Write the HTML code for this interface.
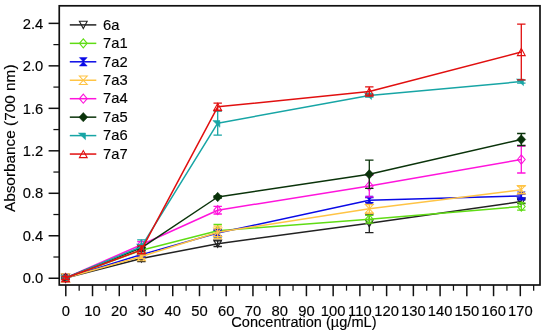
<!DOCTYPE html>
<html><head><meta charset="utf-8"><title>Chart</title>
<style>
html,body{margin:0;padding:0;background:#fff;}
body{width:550px;height:333px;overflow:hidden;font-family:"Liberation Sans",sans-serif;}
svg{display:block;position:absolute;left:0;top:0;will-change:transform;}
text{font-family:"Liberation Sans",sans-serif;font-size:15.2px;fill:#000;stroke:#000;stroke-width:0.15px;}
</style></head><body>
<svg width="550" height="333" viewBox="0 0 550 333">

<rect x="59.25" y="5.8" width="480.75" height="279.2" fill="none" stroke="#111" stroke-width="1.7"/>
<g stroke="#111" stroke-width="1.5" fill="none">
<path d="M48.6 278.25H59.25"/>
<path d="M53.4 257.01H59.25" stroke-width="1.25"/>
<path d="M48.6 235.77H59.25"/>
<path d="M53.4 214.53H59.25" stroke-width="1.25"/>
<path d="M48.6 193.29H59.25"/>
<path d="M53.4 172.05H59.25" stroke-width="1.25"/>
<path d="M48.6 150.81H59.25"/>
<path d="M53.4 129.57H59.25" stroke-width="1.25"/>
<path d="M48.6 108.33H59.25"/>
<path d="M53.4 87.09H59.25" stroke-width="1.25"/>
<path d="M48.6 65.85H59.25"/>
<path d="M53.4 44.61H59.25" stroke-width="1.25"/>
<path d="M48.6 23.37H59.25"/>
<path d="M65.80 285.0V296.2"/>
<path d="M79.17 285.0V290.7" stroke-width="1.25"/>
<path d="M92.53 285.0V296.2"/>
<path d="M105.90 285.0V290.7" stroke-width="1.25"/>
<path d="M119.27 285.0V296.2"/>
<path d="M132.64 285.0V290.7" stroke-width="1.25"/>
<path d="M146.00 285.0V296.2"/>
<path d="M159.37 285.0V290.7" stroke-width="1.25"/>
<path d="M172.74 285.0V296.2"/>
<path d="M186.11 285.0V290.7" stroke-width="1.25"/>
<path d="M199.48 285.0V296.2"/>
<path d="M212.84 285.0V290.7" stroke-width="1.25"/>
<path d="M226.21 285.0V296.2"/>
<path d="M239.58 285.0V290.7" stroke-width="1.25"/>
<path d="M252.94 285.0V296.2"/>
<path d="M266.31 285.0V290.7" stroke-width="1.25"/>
<path d="M279.68 285.0V296.2"/>
<path d="M293.05 285.0V290.7" stroke-width="1.25"/>
<path d="M306.42 285.0V296.2"/>
<path d="M319.78 285.0V290.7" stroke-width="1.25"/>
<path d="M333.15 285.0V296.2"/>
<path d="M346.52 285.0V290.7" stroke-width="1.25"/>
<path d="M359.89 285.0V296.2"/>
<path d="M373.25 285.0V290.7" stroke-width="1.25"/>
<path d="M386.62 285.0V296.2"/>
<path d="M399.99 285.0V290.7" stroke-width="1.25"/>
<path d="M413.36 285.0V296.2"/>
<path d="M426.72 285.0V290.7" stroke-width="1.25"/>
<path d="M440.09 285.0V296.2"/>
<path d="M453.46 285.0V290.7" stroke-width="1.25"/>
<path d="M466.83 285.0V296.2"/>
<path d="M480.19 285.0V290.7" stroke-width="1.25"/>
<path d="M493.56 285.0V296.2"/>
<path d="M506.93 285.0V290.7" stroke-width="1.25"/>
<path d="M520.30 285.0V296.2"/>
<path d="M533.66 285.0V290.7" stroke-width="1.25"/>
</g>
<g>
<text transform="translate(43.2 283.45) scale(0.972 1)" text-anchor="end">0.0</text>
<text transform="translate(43.2 240.97) scale(0.972 1)" text-anchor="end">0.4</text>
<text transform="translate(43.2 198.49) scale(0.972 1)" text-anchor="end">0.8</text>
<text transform="translate(43.2 156.01) scale(0.972 1)" text-anchor="end">1.2</text>
<text transform="translate(43.2 113.53) scale(0.972 1)" text-anchor="end">1.6</text>
<text transform="translate(43.2 71.05) scale(0.972 1)" text-anchor="end">2.0</text>
<text transform="translate(43.2 28.57) scale(0.972 1)" text-anchor="end">2.4</text>
<text transform="translate(65.80 315.7) scale(0.972 1)" text-anchor="middle">0</text>
<text transform="translate(92.53 315.7) scale(0.972 1)" text-anchor="middle">10</text>
<text transform="translate(119.27 315.7) scale(0.972 1)" text-anchor="middle">20</text>
<text transform="translate(146.00 315.7) scale(0.972 1)" text-anchor="middle">30</text>
<text transform="translate(172.74 315.7) scale(0.972 1)" text-anchor="middle">40</text>
<text transform="translate(199.48 315.7) scale(0.972 1)" text-anchor="middle">50</text>
<text transform="translate(226.21 315.7) scale(0.972 1)" text-anchor="middle">60</text>
<text transform="translate(252.94 315.7) scale(0.972 1)" text-anchor="middle">70</text>
<text transform="translate(279.68 315.7) scale(0.972 1)" text-anchor="middle">80</text>
<text transform="translate(306.42 315.7) scale(0.972 1)" text-anchor="middle">90</text>
<text transform="translate(333.15 315.7) scale(0.972 1)" text-anchor="middle">100</text>
<text transform="translate(359.89 315.7) scale(0.972 1)" text-anchor="middle">110</text>
<text transform="translate(386.62 315.7) scale(0.972 1)" text-anchor="middle">120</text>
<text transform="translate(413.36 315.7) scale(0.972 1)" text-anchor="middle">130</text>
<text transform="translate(440.09 315.7) scale(0.972 1)" text-anchor="middle">140</text>
<text transform="translate(466.83 315.7) scale(0.972 1)" text-anchor="middle">150</text>
<text transform="translate(493.56 315.7) scale(0.972 1)" text-anchor="middle">160</text>
<text transform="translate(520.30 315.7) scale(0.972 1)" text-anchor="middle">170</text>
<text x="303.9" y="327.3" text-anchor="middle" textLength="145.2" lengthAdjust="spacingAndGlyphs">Concentration (µg/mL)</text>
<text transform="translate(14.9 138.3) rotate(-90)" text-anchor="middle" textLength="147.6" lengthAdjust="spacingAndGlyphs" style="font-size:14.4px">Absorbance (700 nm)</text>
</g>
<g stroke="#222222" fill="none" stroke-width="1.5">
<polyline points="65.60,278.00 141.40,258.40 217.70,243.70 369.30,223.30 521.30,201.60" stroke-linejoin="round"/>
<path d="M65.60 277.00V279.00M61.40 277.00H69.80M61.40 279.00H69.80" stroke-width="1.3"/>
<path d="M141.40 255.10V261.70M137.20 255.10H145.60M137.20 261.70H145.60" stroke-width="1.3"/>
<path d="M217.70 240.90V246.50M213.50 240.90H221.90M213.50 246.50H221.90" stroke-width="1.3"/>
<path d="M369.30 214.00V232.60M365.10 214.00H373.50M365.10 232.60H373.50" stroke-width="1.3"/>
<path d="M521.30 199.60V203.60M517.10 199.60H525.50M517.10 203.60H525.50" stroke-width="1.3"/>
</g>
<path d="M61.70 274.40H69.50L65.60 281.60Z" fill="none" stroke="#222222" stroke-width="1.1"/>
<path d="M137.50 254.80H145.30L141.40 262.00Z" fill="none" stroke="#222222" stroke-width="1.1"/>
<path d="M213.80 240.10H221.60L217.70 247.30Z" fill="none" stroke="#222222" stroke-width="1.1"/>
<path d="M365.40 219.70H373.20L369.30 226.90Z" fill="none" stroke="#222222" stroke-width="1.1"/>
<path d="M517.40 198.00H525.20L521.30 205.20Z" fill="none" stroke="#222222" stroke-width="1.1"/>
<g stroke="#5fdc14" fill="none" stroke-width="1.5">
<polyline points="65.60,278.00 141.40,250.20 217.70,230.70 369.30,219.30 521.30,206.50" stroke-linejoin="round"/>
<path d="M65.60 277.00V279.00M61.40 277.00H69.80M61.40 279.00H69.80" stroke-width="1.3"/>
<path d="M141.40 247.20V253.20M137.20 247.20H145.60M137.20 253.20H145.60" stroke-width="1.3"/>
<path d="M217.70 224.50V236.90M213.50 224.50H221.90M213.50 236.90H221.90" stroke-width="1.3"/>
<path d="M369.30 215.40V223.20M365.10 215.40H373.50M365.10 223.20H373.50" stroke-width="1.3"/>
<path d="M521.30 202.90V210.10M517.10 202.90H525.50M517.10 210.10H525.50" stroke-width="1.3"/>
</g>
<path d="M61.75 278.00L65.60 273.45L69.45 278.00L65.60 282.55Z" fill="none" stroke="#5fdc14" stroke-width="1.1"/>
<path d="M137.55 250.20L141.40 245.65L145.25 250.20L141.40 254.75Z" fill="none" stroke="#5fdc14" stroke-width="1.1"/>
<path d="M213.85 230.70L217.70 226.15L221.55 230.70L217.70 235.25Z" fill="none" stroke="#5fdc14" stroke-width="1.1"/>
<path d="M365.45 219.30L369.30 214.75L373.15 219.30L369.30 223.85Z" fill="none" stroke="#5fdc14" stroke-width="1.1"/>
<path d="M517.45 206.50L521.30 201.95L525.15 206.50L521.30 211.05Z" fill="none" stroke="#5fdc14" stroke-width="1.1"/>
<g stroke="#0a0ae6" fill="none" stroke-width="1.5">
<polyline points="65.60,278.00 141.40,254.60 217.70,233.00 369.30,200.20 521.30,196.00" stroke-linejoin="round"/>
<path d="M65.60 277.00V279.00M61.40 277.00H69.80M61.40 279.00H69.80" stroke-width="1.3"/>
<path d="M141.40 252.60V256.60M137.20 252.60H145.60M137.20 256.60H145.60" stroke-width="1.3"/>
<path d="M217.70 230.00V236.00M213.50 230.00H221.90M213.50 236.00H221.90" stroke-width="1.3"/>
<path d="M369.30 197.70V202.70M365.10 197.70H373.50M365.10 202.70H373.50" stroke-width="1.3"/>
<path d="M521.30 194.00V198.00M517.10 194.00H525.50M517.10 198.00H525.50" stroke-width="1.3"/>
</g>
<path d="M61.70 273.80H69.50L61.70 282.20H69.50Z" fill="#0a0ae6" stroke="#0a0ae6" stroke-width="0.5"/>
<path d="M137.50 250.40H145.30L137.50 258.80H145.30Z" fill="#0a0ae6" stroke="#0a0ae6" stroke-width="0.5"/>
<path d="M213.80 228.80H221.60L213.80 237.20H221.60Z" fill="#0a0ae6" stroke="#0a0ae6" stroke-width="0.5"/>
<path d="M365.40 196.00H373.20L365.40 204.40H373.20Z" fill="#0a0ae6" stroke="#0a0ae6" stroke-width="0.5"/>
<path d="M517.40 191.80H525.20L517.40 200.20H525.20Z" fill="#0a0ae6" stroke="#0a0ae6" stroke-width="0.5"/>
<g stroke="#ffc445" fill="none" stroke-width="1.5">
<polyline points="65.60,278.00 141.40,256.50 217.70,232.30 369.30,208.80 521.30,189.80" stroke-linejoin="round"/>
<path d="M65.60 277.00V279.00M61.40 277.00H69.80M61.40 279.00H69.80" stroke-width="1.3"/>
<path d="M141.40 254.50V258.50M137.20 254.50H145.60M137.20 258.50H145.60" stroke-width="1.3"/>
<path d="M217.70 226.10V238.50M213.50 226.10H221.90M213.50 238.50H221.90" stroke-width="1.3"/>
<path d="M369.30 204.30V213.30M365.10 204.30H373.50M365.10 213.30H373.50" stroke-width="1.3"/>
<path d="M521.30 186.20V193.40M517.10 186.20H525.50M517.10 193.40H525.50" stroke-width="1.3"/>
</g>
<path d="M61.70 273.80H69.50L61.70 282.20H69.50Z" fill="none" stroke="#ffc445" stroke-width="1.1"/>
<path d="M137.50 252.30H145.30L137.50 260.70H145.30Z" fill="none" stroke="#ffc445" stroke-width="1.1"/>
<path d="M213.80 228.10H221.60L213.80 236.50H221.60Z" fill="none" stroke="#ffc445" stroke-width="1.1"/>
<path d="M365.40 204.60H373.20L365.40 213.00H373.20Z" fill="none" stroke="#ffc445" stroke-width="1.1"/>
<path d="M517.40 185.60H525.20L517.40 194.00H525.20Z" fill="none" stroke="#ffc445" stroke-width="1.1"/>
<g stroke="#ff14dc" fill="none" stroke-width="1.5">
<polyline points="65.60,278.00 141.40,244.70 217.70,210.20 369.30,186.00 521.30,159.50" stroke-linejoin="round"/>
<path d="M65.60 277.00V279.00M61.40 277.00H69.80M61.40 279.00H69.80" stroke-width="1.3"/>
<path d="M141.40 241.70V247.70M137.20 241.70H145.60M137.20 247.70H145.60" stroke-width="1.3"/>
<path d="M217.70 206.40V214.00M213.50 206.40H221.90M213.50 214.00H221.90" stroke-width="1.3"/>
<path d="M369.30 175.20V196.80M365.10 175.20H373.50M365.10 196.80H373.50" stroke-width="1.3"/>
<path d="M521.30 146.00V173.00M517.10 146.00H525.50M517.10 173.00H525.50" stroke-width="1.3"/>
</g>
<path d="M61.75 278.00L65.60 273.45L69.45 278.00L65.60 282.55Z" fill="none" stroke="#ff14dc" stroke-width="1.1"/>
<path d="M137.55 244.70L141.40 240.15L145.25 244.70L141.40 249.25Z" fill="none" stroke="#ff14dc" stroke-width="1.1"/>
<path d="M213.85 210.20L217.70 205.65L221.55 210.20L217.70 214.75Z" fill="none" stroke="#ff14dc" stroke-width="1.1"/>
<path d="M365.45 186.00L369.30 181.45L373.15 186.00L369.30 190.55Z" fill="none" stroke="#ff14dc" stroke-width="1.1"/>
<path d="M517.45 159.50L521.30 154.95L525.15 159.50L521.30 164.05Z" fill="none" stroke="#ff14dc" stroke-width="1.1"/>
<g stroke="#0a330a" fill="none" stroke-width="1.5">
<polyline points="65.60,278.00 141.40,247.80 217.70,197.00 369.30,174.30 521.30,139.50" stroke-linejoin="round"/>
<path d="M65.60 277.00V279.00M61.40 277.00H69.80M61.40 279.00H69.80" stroke-width="1.3"/>
<path d="M141.40 244.80V250.80M137.20 244.80H145.60M137.20 250.80H145.60" stroke-width="1.3"/>
<path d="M217.70 196.00V198.00M213.50 196.00H221.90M213.50 198.00H221.90" stroke-width="1.3"/>
<path d="M369.30 160.20V188.40M365.10 160.20H373.50M365.10 188.40H373.50" stroke-width="1.3"/>
<path d="M521.30 133.50V145.50M517.10 133.50H525.50M517.10 145.50H525.50" stroke-width="1.3"/>
</g>
<path d="M61.20 278.00L65.60 273.30L70.00 278.00L65.60 282.70Z" fill="#0a330a" stroke="#0a330a" stroke-width="0.5"/>
<path d="M137.00 247.80L141.40 243.10L145.80 247.80L141.40 252.50Z" fill="#0a330a" stroke="#0a330a" stroke-width="0.5"/>
<path d="M213.30 197.00L217.70 192.30L222.10 197.00L217.70 201.70Z" fill="#0a330a" stroke="#0a330a" stroke-width="0.5"/>
<path d="M364.90 174.30L369.30 169.60L373.70 174.30L369.30 179.00Z" fill="#0a330a" stroke="#0a330a" stroke-width="0.5"/>
<path d="M516.90 139.50L521.30 134.80L525.70 139.50L521.30 144.20Z" fill="#0a330a" stroke="#0a330a" stroke-width="0.5"/>
<g stroke="#17a5a5" fill="none" stroke-width="1.5">
<polyline points="65.60,278.00 141.40,246.70 217.70,123.20 369.30,95.50 521.30,81.60" stroke-linejoin="round"/>
<path d="M65.60 277.00V279.00M61.40 277.00H69.80M61.40 279.00H69.80" stroke-width="1.3"/>
<path d="M141.40 239.90V253.50M137.20 239.90H145.60M137.20 253.50H145.60" stroke-width="1.3"/>
<path d="M217.70 111.20V135.20M213.50 111.20H221.90M213.50 135.20H221.90" stroke-width="1.3"/>
<path d="M369.30 94.00V97.00M365.10 94.00H373.50M365.10 97.00H373.50" stroke-width="1.3"/>
<path d="M521.30 80.10V83.10M517.10 80.10H525.50M517.10 83.10H525.50" stroke-width="1.3"/>
</g>
<path d="M60.70 275.40H67.80V282.10Z" fill="#17a5a5" stroke="#17a5a5" stroke-width="0.5"/>
<path d="M136.50 244.10H143.60V250.80Z" fill="#17a5a5" stroke="#17a5a5" stroke-width="0.5"/>
<path d="M212.80 120.60H219.90V127.30Z" fill="#17a5a5" stroke="#17a5a5" stroke-width="0.5"/>
<path d="M364.40 92.90H371.50V99.60Z" fill="#17a5a5" stroke="#17a5a5" stroke-width="0.5"/>
<path d="M516.40 79.00H523.50V85.70Z" fill="#17a5a5" stroke="#17a5a5" stroke-width="0.5"/>
<g stroke="#e10f0f" fill="none" stroke-width="1.5">
<polyline points="65.60,278.00 141.40,249.90 217.70,106.80 369.30,91.50 521.30,52.00" stroke-linejoin="round"/>
<path d="M65.60 276.50V279.50M61.40 276.50H69.80M61.40 279.50H69.80" stroke-width="1.3"/>
<path d="M141.40 245.90V253.90M137.20 245.90H145.60M137.20 253.90H145.60" stroke-width="1.3"/>
<path d="M217.70 103.10V110.50M213.50 103.10H221.90M213.50 110.50H221.90" stroke-width="1.3"/>
<path d="M369.30 86.90V96.10M365.10 86.90H373.50M365.10 96.10H373.50" stroke-width="1.3"/>
<path d="M521.30 24.20V79.80M517.10 24.20H525.50M517.10 79.80H525.50" stroke-width="1.3"/>
</g>
<path d="M61.70 281.60H69.50L65.60 274.50Z" fill="none" stroke="#e10f0f" stroke-width="1.1"/>
<path d="M137.50 253.50H145.30L141.40 246.40Z" fill="none" stroke="#e10f0f" stroke-width="1.1"/>
<path d="M213.80 110.40H221.60L217.70 103.30Z" fill="none" stroke="#e10f0f" stroke-width="1.1"/>
<path d="M365.40 95.10H373.20L369.30 88.00Z" fill="none" stroke="#e10f0f" stroke-width="1.1"/>
<path d="M517.40 55.60H525.20L521.30 48.50Z" fill="none" stroke="#e10f0f" stroke-width="1.1"/>
<g>
<path d="M69.8 24.90H96.3" stroke="#222222" stroke-width="1.5" fill="none"/>
<path d="M79.40 21.30H87.20L83.30 28.50Z" fill="none" stroke="#222222" stroke-width="1.1"/>
<text transform="translate(103 29.60) scale(0.972 1)">6a</text>
<path d="M69.8 43.35H96.3" stroke="#5fdc14" stroke-width="1.5" fill="none"/>
<path d="M79.45 43.35L83.30 38.80L87.15 43.35L83.30 47.90Z" fill="none" stroke="#5fdc14" stroke-width="1.1"/>
<text transform="translate(103 48.05) scale(0.972 1)">7a1</text>
<path d="M69.8 61.80H96.3" stroke="#0a0ae6" stroke-width="1.5" fill="none"/>
<path d="M79.40 57.60H87.20L79.40 66.00H87.20Z" fill="#0a0ae6" stroke="#0a0ae6" stroke-width="0.5"/>
<text transform="translate(103 66.50) scale(0.972 1)">7a2</text>
<path d="M69.8 80.25H96.3" stroke="#ffc445" stroke-width="1.5" fill="none"/>
<path d="M79.40 76.05H87.20L79.40 84.45H87.20Z" fill="none" stroke="#ffc445" stroke-width="1.1"/>
<text transform="translate(103 84.95) scale(0.972 1)">7a3</text>
<path d="M69.8 98.70H96.3" stroke="#ff14dc" stroke-width="1.5" fill="none"/>
<path d="M79.45 98.70L83.30 94.15L87.15 98.70L83.30 103.25Z" fill="none" stroke="#ff14dc" stroke-width="1.1"/>
<text transform="translate(103 103.40) scale(0.972 1)">7a4</text>
<path d="M69.8 117.15H96.3" stroke="#0a330a" stroke-width="1.5" fill="none"/>
<path d="M78.90 117.15L83.30 112.45L87.70 117.15L83.30 121.85Z" fill="#0a330a" stroke="#0a330a" stroke-width="0.5"/>
<text transform="translate(103 121.85) scale(0.972 1)">7a5</text>
<path d="M69.8 135.60H96.3" stroke="#17a5a5" stroke-width="1.5" fill="none"/>
<path d="M78.40 133.00H85.50V139.70Z" fill="#17a5a5" stroke="#17a5a5" stroke-width="0.5"/>
<text transform="translate(103 140.30) scale(0.972 1)">7a6</text>
<path d="M69.8 154.05H96.3" stroke="#e10f0f" stroke-width="1.5" fill="none"/>
<path d="M79.40 157.65H87.20L83.30 150.55Z" fill="none" stroke="#e10f0f" stroke-width="1.1"/>
<text transform="translate(103 158.75) scale(0.972 1)">7a7</text>
</g>
</svg>
</body></html>
